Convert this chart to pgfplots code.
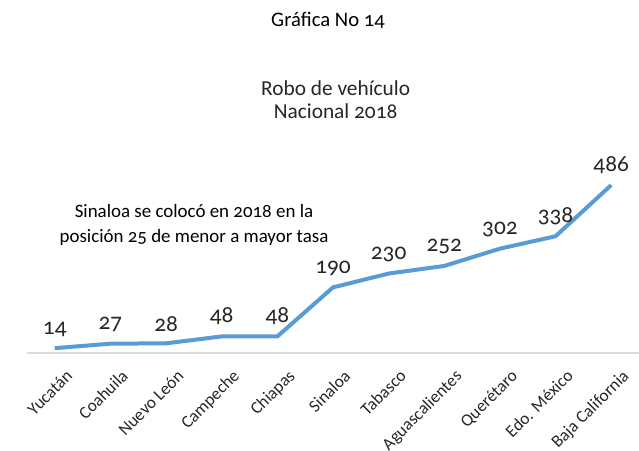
\documentclass[border=0pt]{standalone}
\usepackage{pgfplots}
\pgfplotsset{compat=1.18}
\usepackage{fontspec}
\setmainfont{Carlito}[Numbers=OldStyle]
\definecolor{lineblue}{HTML}{5B9BD5}
\definecolor{axgray}{HTML}{D9D9D9}
\definecolor{txt}{HTML}{262626}
\begin{document}
\begin{tikzpicture}
\path[use as bounding box] (-20.25pt,-72.75pt) rectangle (459pt,264.75pt);
\begin{axis}[
  at={(0,0)}, anchor=south west,
  scale only axis,
  width=459pt, height=142.5pt,
  xmin=-0.5, xmax=10.5,
  ymin=0, ymax=550,
  axis x line=bottom,
  axis y line=none,
  x axis line style={axgray, line width=0.9pt, -},
  xtick={0,...,10},
  xticklabels={Yucatán,Coahuila,Nuevo León,Campeche,Chiapas,Sinaloa,Tabasco,Aguascalientes,Querétaro,Edo. México,Baja California},
  major tick length=0pt,
  xticklabel style={xshift=14pt, yshift=-18pt, rotate=45, anchor=base east, font=\fontsize{13}{15}\selectfont, text=txt, inner sep=0pt},
  /pgf/number format/assume math mode=true,
  nodes near coords,
  every node near coord/.append style={font=\fontsize{17.5}{19}\selectfont, text=txt, yshift=4pt},
  clip=false,
]
\addplot[lineblue, line width=3pt, line join=round, mark=none] coordinates {
(0,14) (1,27) (2,28) (3,48) (4,48) (5,190) (6,230) (7,252) (8,302) (9,338) (10,486)
};
\end{axis}
\node[text=black, font=\fontsize{15.5}{18}\selectfont] at (225.75pt,249.75pt) {Gráfica No 14};
\node[text=txt, font=\fontsize{16}{17.5}\selectfont, align=center] at (231.5pt,189.75pt) {Robo de vehículo\\Nacional 2018};
\node[text=black, font=\fontsize{14.2}{18.5}\selectfont, align=center] at (125.25pt,96pt) {Sinaloa se colocó en 2018 en la\\posición 25 de menor a mayor tasa};
\end{tikzpicture}
\end{document}
